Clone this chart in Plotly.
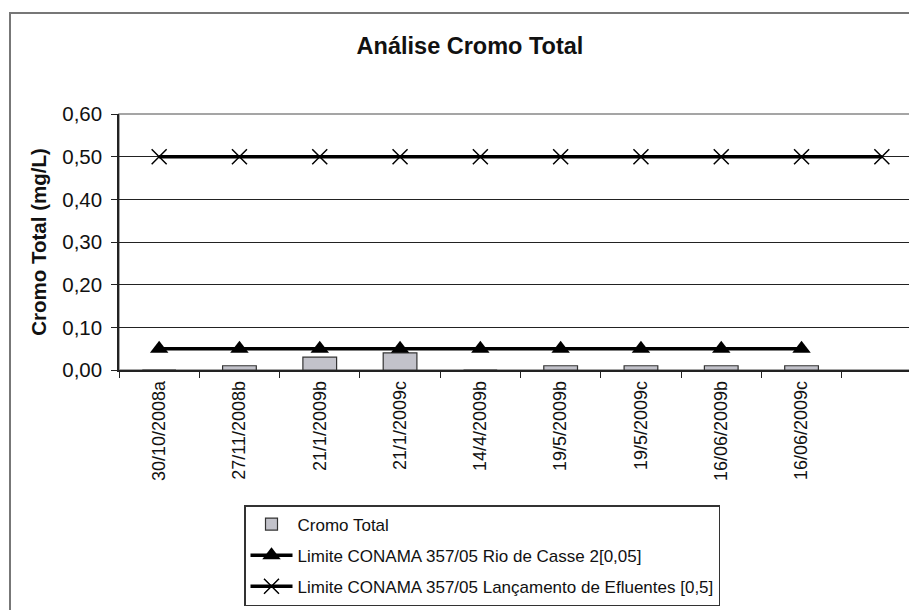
import plotly.graph_objects as go

# data
categories = ["30/10/2008a", "27/11/2008b", "21/1/2009b", "21/1/2009c", "14/4/2009b",
              "19/5/2009b", "19/5/2009c", "16/06/2009b", "16/06/2009c", " "]
cromo_total = [0.0, 0.01, 0.03, 0.04, 0.0, 0.01, 0.01, 0.01, 0.01]
limite_rio = [0.05] * 9
limite_efluentes = [0.5] * 10

W, H = 917, 610
L, R, T, B = 111, 3, 106, 248
plot_w = W - L - R
plot_h = H - T - B

def px_x(p):
    return (p - L) / plot_w

def px_y(p):
    return (H - B - p) / plot_h

fig = go.Figure()

fig.add_trace(go.Bar(
    x=categories[:len(cromo_total)], y=cromo_total,
    name="Cromo Total",
    marker=dict(color="#C2C2CA", line=dict(color="#333333", width=1.2)),
    width=0.42,
    legendgroup="a",
))

fig.add_trace(go.Scatter(
    x=categories[:len(limite_rio)], y=limite_rio,
    mode="lines+markers",
    name="Limite CONAMA 357/05 Rio de Casse 2[0,05]",
    line=dict(color="black", width=3.5),
    marker=dict(symbol="triangle-up", size=16, color="black"),
    legendgroup="b",
))

fig.add_trace(go.Scatter(
    x=categories, y=limite_efluentes,
    mode="lines+markers",
    name="Limite CONAMA 357/05 Lançamento de Efluentes [0,5]",
    line=dict(color="black", width=3.5),
    marker=dict(symbol="x-thin-open", size=15, color="black",
                line=dict(color="#222222", width=1.5)),
    legendgroup="c",
))

fig.update_layout(
    width=W, height=H,
    margin=dict(l=L, r=R, t=T, b=B),
    paper_bgcolor="white", plot_bgcolor="white",
    separators=",.",
    font=dict(family="Liberation Sans, Arial", size=18, color="#111111"),
    title=dict(text="<b>Análise Cromo Total</b>", font=dict(size=23.5),
               xref="container", x=462 / W, xanchor="center",
               yref="container", y=1 - 38 / H, yanchor="middle"),
    showlegend=True,
    legend=dict(x=px_x(236), y=px_y(497), xanchor="left", yanchor="top",
                bordercolor="#333333", borderwidth=1.5, bgcolor="white",
                font=dict(size=17), traceorder="grouped", tracegroupgap=6,
                itemwidth=42),
    xaxis=dict(type="category", categoryorder="array", categoryarray=categories,
               range=[-0.5, len(categories) - 0.5],
               tickson="boundaries", ticks="outside", ticklen=6, tickcolor="#222222",
               tickangle=-90, showgrid=False, showline=True, linecolor="#222222",
               linewidth=1.5, tickfont=dict(size=18), ticklabelstandoff=2),
    yaxis=dict(range=[0, 0.6], dtick=0.1, tickformat=".2f",
               ticks="outside", ticklen=6, tickcolor="#222222",
               showgrid=True, gridcolor="#222222", gridwidth=1,
               showline=True, linecolor="#222222", linewidth=1.5,
               zeroline=False, tickfont=dict(size=20.5), ticklabelstandoff=5,
               title=dict(text="<b>Cromo Total (mg/L)</b>", font=dict(size=20.5), standoff=10)),
    shapes=[
        # plot area border (top and right)
        dict(type="rect", xref="paper", yref="paper", x0=0, x1=1, y0=0, y1=1,
             line=dict(color="#888888", width=1.5), layer="below"),
        # outer chart border
        dict(type="rect", xref="paper", yref="paper",
             x0=px_x(2), x1=px_x(940), y0=px_y(5), y1=px_y(640),
             line=dict(color="#777777", width=2)),
    ],
)

fig.write_html("out.html")
